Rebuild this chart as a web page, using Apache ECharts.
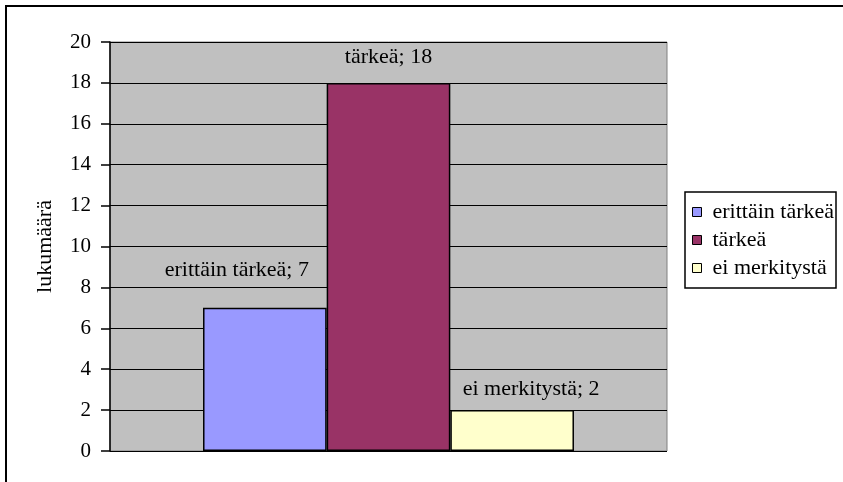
<!DOCTYPE html>
<html>
<head>
<meta charset="utf-8">
<script src="https://cdn.jsdelivr.net/npm/echarts@6/dist/echarts.min.js"></script>
<style>
  html, body { margin: 0; padding: 0; background: #fff; }
  #chart { width: 843px; height: 482px; }
</style>
</head>
<body>
<div id="chart"></div>
<script>
// Vastausten jakauma: kuinka tärkeänä asiaa pidetään
const categories = ['vastaukset'];
const seriesNames = ['erittäin tärkeä', 'tärkeä', 'ei merkitystä'];
const seriesValues = [[7], [18], [2]];
const seriesColors = ['#9999FF', '#993366', '#FFFFCC'];
const yAxisTitle = 'lukumäärä';
const yMin = 0;
const yMax = 20;
const yStep = 2;

// hand-placed label offsets for each bar's value label
const labelOffsets = [[-28, -22], [0, -10], [19, -5]];

const FONT = '"Liberation Serif", "Times New Roman", serif';
const FS = 22;

const chart = echarts.init(document.getElementById('chart'), null, { renderer: 'canvas' });

const series = seriesNames.map((name, i) => ({
  name: name,
  type: 'bar',
  data: seriesValues[i],
  barGap: '0%',
  barCategoryGap: '33.4%',
  itemStyle: { color: seriesColors[i], borderColor: '#000', borderWidth: 1.5 },
  label: {
    show: true,
    position: 'top',
    distance: 5,
    offset: labelOffsets[i],
    color: '#000',
    fontFamily: FONT,
    fontSize: FS,
    formatter: (p) => p.seriesName + '; ' + p.value
  }
}));

chart.setOption({
  animation: false,
  backgroundColor: '#fff',
  textStyle: { fontFamily: FONT },
  grid: {
    left: 110, top: 42, right: 176, bottom: 31,
    show: true, backgroundColor: '#C0C0C0', borderColor: '#808080', borderWidth: 1
  },
  xAxis: {
    type: 'category',
    data: categories,
    axisLine: { show: false },
    axisTick: { show: false },
    axisLabel: { show: false },
    splitLine: { show: false }
  },
  yAxis: {
    type: 'value',
    min: yMin, max: yMax, interval: yStep,
    name: yAxisTitle,
    nameLocation: 'middle',
    nameGap: 54,
    nameRotate: 90,
    nameTextStyle: { color: '#000', fontFamily: FONT, fontSize: FS },
    axisLine: { show: true, lineStyle: { color: '#000', width: 1.5 } },
    axisTick: { show: true, inside: false, length: 9, lineStyle: { color: '#000', width: 1.5 } },
    axisLabel: { color: '#000', fontFamily: FONT, fontSize: 21, margin: 19 },
    splitLine: { show: true, lineStyle: { color: '#000', width: 1.2 } }
  },
  legend: {
    orient: 'vertical',
    left: 692, top: 201,
    itemWidth: 9, itemHeight: 9,
    itemGap: 6,
    icon: 'rect',
    padding: 0,
    textStyle: { color: '#000', fontFamily: FONT, fontSize: FS, padding: [0, 0, 0, 6] },
    itemStyle: { borderColor: '#000', borderWidth: 1 },
    data: seriesNames
  },
  graphic: [
    {
      type: 'rect', z: 0, silent: true,
      shape: { x: 685, y: 192, width: 151, height: 96 },
      style: { fill: '#fff', stroke: '#000', lineWidth: 1.5 }
    },
    {
      type: 'rect', z: 100, silent: true,
      shape: { x: 6, y: 6, width: 900, height: 600 },
      style: { fill: null, stroke: '#000', lineWidth: 2 }
    }
  ],
  series: series
});
</script>
</body>
</html>
